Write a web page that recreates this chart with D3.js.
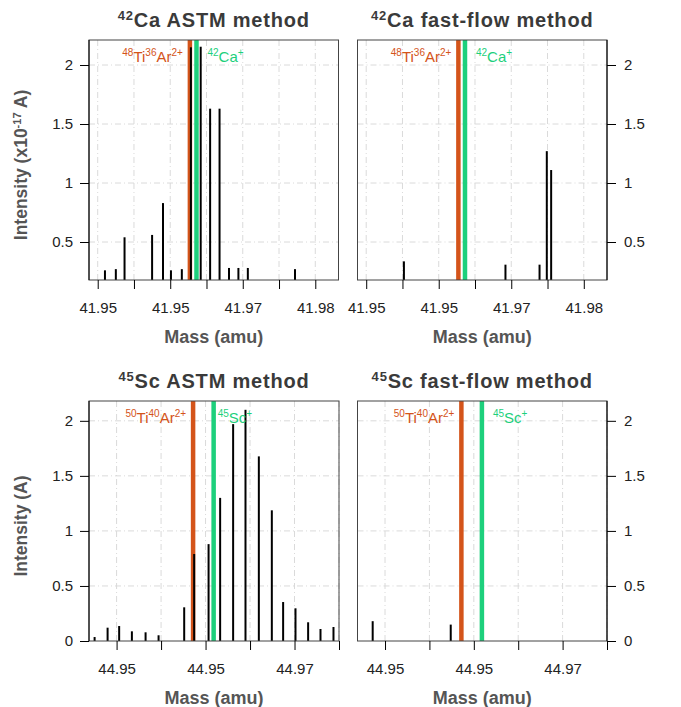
<!DOCTYPE html>
<html>
<head>
<meta charset="utf-8">
<script src="https://cdn.jsdelivr.net/npm/d3@7"></script>
<style>
  body { margin: 0; background: #fff; }
  svg { font-family: "Liberation Sans", Arial, Helvetica, sans-serif; }
</style>
</head>
<body>
<svg id="chart" width="681" height="707"></svg>
<script>
// spectra
const caAstmMass = [41.9460, 41.9475, 41.9487, 41.9525, 41.9540, 41.9551, 41.9566, 41.95785, 41.9592, 41.9605, 41.9618, 41.9631, 41.9644, 41.9657, 41.9722];
const caAstmInt  = [0.26, 0.27, 0.54, 0.56, 0.83, 0.26, 0.27, 2.15, 2.155, 1.63, 1.63, 0.28, 0.28, 0.28, 0.27];

const caFastMass = [41.9502, 41.9642, 41.9689, 41.9699, 41.9705];
const caFastInt  = [0.336, 0.308, 0.308, 1.27, 1.11];

const scAstmMass = [44.94253, 44.94399, 44.94529, 44.94672, 44.94826, 44.94972, 44.95260, 44.95372, 44.95534, 44.95664, 44.95810, 44.95949, 44.96099, 44.96245, 44.96372, 44.96511, 44.96653, 44.96792, 44.96938];
const scAstmInt  = [0.036, 0.121, 0.136, 0.088, 0.079, 0.052, 0.306, 0.79, 0.88, 1.30, 1.97, 2.10, 1.677, 1.187, 0.354, 0.297, 0.17, 0.109, 0.127];

const scFastMass = [44.94361, 44.9524];
const scFastInt  = [0.18, 0.149];

// interfering species (mass of the polyatomic, mass of the analyte)
const caLines = [41.95771, 41.95862];
const scLines = [44.95360, 44.95591];

const caTicks = [41.945, 41.95, 41.955, 41.96, 41.965, 41.97, 41.975];
const caTickLabels = ["41.95", "", "41.95", "", "41.97", "", "41.98"];
const scTicks = [44.945, 44.95, 44.955, 44.96, 44.965, 44.97];
const scTickLabels = ["44.95", "", "44.95", "", "44.97", ""];

const topYTicks = [0.5, 1, 1.5, 2];
const botYTicks = [0, 0.5, 1, 1.5, 2];

const ORANGE = "#d4541a";
const GREEN = "#1dd07c";

const svg = d3.select("#chart");

// text with superscript bits: parts = [[str, isSup], ...]
function richText(sel, parts, size, supSize, rise) {
  let up = false;
  parts.forEach(([s, sup]) => {
    const t = sel.append("tspan").text(s);
    if (sup && !up) { t.attr("dy", -rise); up = true; }
    else if (!sup && up) { t.attr("dy", rise); up = false; }
    t.attr("font-size", sup ? supSize : size);
  });
  return sel;
}

function drawPanel(p) {
  const x = d3.scaleLinear().domain(p.xDom).range([p.x0, p.x1]);
  const y = d3.scaleLinear().domain(p.yDom).range([p.y1, p.y0]);
  const g = svg.append("g");

  // grid
  g.selectAll("line.vg").data(p.xTicks).join("line")
    .attr("x1", d => x(d)).attr("x2", d => x(d))
    .attr("y1", p.y0).attr("y2", p.y1)
    .attr("stroke", "#dadada").attr("stroke-width", 1)
    .attr("stroke-dasharray", "6,3,1,3");
  g.selectAll("line.hg").data(p.yTicks.filter(d => d > p.yDom[0])).join("line")
    .attr("x1", p.x0).attr("x2", p.x1)
    .attr("y1", d => y(d)).attr("y2", d => y(d))
    .attr("stroke", "#dadada").attr("stroke-width", 1)
    .attr("stroke-dasharray", "6,3,1,3");

  // interference lines
  g.append("line")
    .attr("x1", x(p.lines[0])).attr("x2", x(p.lines[0]))
    .attr("y1", p.y0).attr("y2", p.y1)
    .attr("stroke", ORANGE).attr("stroke-width", 4.5);
  g.append("line")
    .attr("x1", x(p.lines[1])).attr("x2", x(p.lines[1]))
    .attr("y1", p.y0).attr("y2", p.y1)
    .attr("stroke", GREEN).attr("stroke-width", 4.5);

  // spikes
  const spikes = p.mass.map((m, i) => ({ m, v: p.int[i] }));
  g.selectAll("line.spike").data(spikes).join("line")
    .attr("x1", d => x(d.m)).attr("x2", d => x(d.m))
    .attr("y1", p.y1).attr("y2", d => y(d.v))
    .attr("stroke", "#000").attr("stroke-width", 2);

  // labels of the lines
  richText(g.append("text")
    .attr("x", x(p.lines[0]) - 7).attr("y", p.y0 + 22)
    .attr("text-anchor", "end").attr("fill", ORANGE),
    p.polyLabel, 15, 10, 6);
  richText(g.append("text")
    .attr("x", x(p.lines[1]) + p.greenGap).attr("y", p.y0 + 22)
    .attr("fill", GREEN),
    p.ionLabel, 15, 10, 6);

  // frame
  g.append("rect")
    .attr("x", p.x0).attr("y", p.y0)
    .attr("width", p.x1 - p.x0).attr("height", p.y1 - p.y0)
    .attr("fill", "none").attr("stroke", "#444").attr("stroke-width", 1);

  // x axis
  const xa = g.append("g")
    .attr("transform", `translate(0,${p.y1})`)
    .call(d3.axisBottom(x).tickValues(p.xTicks)
      .tickFormat((d, i) => p.xLabels[i]).tickSize(9).tickSizeOuter(0).tickPadding(13.5));
  xa.select(".domain").remove();
  xa.selectAll("line").attr("stroke", "#000");
  xa.selectAll("text").attr("font-size", 15).attr("fill", "#222")
    .attr("font-family", "Liberation Sans, Arial, sans-serif");

  // y axis
  const yAxis = p.right ? d3.axisRight(y) : d3.axisLeft(y);
  const ya = g.append("g")
    .attr("transform", `translate(${p.right ? p.x1 : p.x0},0)`)
    .call(yAxis.tickValues(p.yTicks).tickFormat(d3.format("~g"))
      .tickSize(9).tickSizeOuter(0).tickPadding(p.right ? 8 : 7));
  ya.select(".domain").attr("d", `M0,${p.y0}V${p.y1}`).attr("stroke", "#000");
  ya.selectAll("line").attr("stroke", "#000");
  ya.selectAll("text").attr("font-size", 15).attr("fill", "#222")
    .attr("font-family", "Liberation Sans, Arial, sans-serif");

  // titles
  const cx = (p.x0 + p.x1) / 2;
  richText(svg.append("text")
    .attr("x", cx).attr("y", p.y0 - 13)
    .attr("text-anchor", "middle").attr("font-weight", "bold").attr("fill", "#3a3a3a")
    .attr("letter-spacing", 0.8),
    p.title, 20, 13, 7);

  svg.append("text")
    .attr("x", cx).attr("y", p.y1 + 62.5)
    .attr("text-anchor", "middle").attr("font-weight", "bold")
    .attr("font-size", 18).attr("fill", "#555")
    .text("Mass (amu)");

  if (p.yTitle) {
    richText(svg.append("text")
      .attr("transform", `translate(26.5,${(p.y0 + p.y1) / 2 + 5}) rotate(-90)`)
      .attr("text-anchor", "middle").attr("font-weight", "bold").attr("fill", "#555"),
      p.yTitle, 17.5, 11, 6);
  }
}

const caX = [41.9438, 41.9782];
const scX = [44.9419, 44.9700];

drawPanel({
  x0: 89, x1: 338.5, y0: 40, y1: 280, xDom: caX, yDom: [0.178, 2.212],
  xTicks: caTicks, xLabels: caTickLabels, yTicks: topYTicks,
  mass: caAstmMass, int: caAstmInt, lines: caLines, greenGap: 11,
  polyLabel: [["48", true], ["Ti", false], ["36", true], ["Ar", false], ["2+", true]],
  ionLabel: [["42", true], ["Ca", false], ["+", true]],
  title: [["42", true], ["Ca ASTM method", false]],
  yTitle: [["Intensity (x10", false], ["-17", true], [" A)", false]]
});
drawPanel({
  x0: 357.5, x1: 607, y0: 40, y1: 280, xDom: caX, yDom: [0.178, 2.212], right: true,
  xTicks: caTicks, xLabels: caTickLabels, yTicks: topYTicks,
  mass: caFastMass, int: caFastInt, lines: caLines, greenGap: 11,
  polyLabel: [["48", true], ["Ti", false], ["36", true], ["Ar", false], ["2+", true]],
  ionLabel: [["42", true], ["Ca", false], ["+", true]],
  title: [["42", true], ["Ca fast-flow method", false]]
});
drawPanel({
  x0: 89, x1: 339, y0: 401, y1: 641, xDom: scX, yDom: [0, 2.18],
  xTicks: scTicks, xLabels: scTickLabels, yTicks: botYTicks,
  mass: scAstmMass, int: scAstmInt, lines: scLines, greenGap: 4,
  polyLabel: [["50", true], ["Ti", false], ["40", true], ["Ar", false], ["2+", true]],
  ionLabel: [["45", true], ["Sc", false], ["+", true]],
  title: [["45", true], ["Sc ASTM method", false]],
  yTitle: [["Intensity (A)", false]]
});
drawPanel({
  x0: 357.5, x1: 607, y0: 401, y1: 641, xDom: scX, yDom: [0, 2.18], right: true,
  xTicks: scTicks, xLabels: scTickLabels, yTicks: botYTicks,
  mass: scFastMass, int: scFastInt, lines: scLines, greenGap: 11,
  polyLabel: [["50", true], ["Ti", false], ["40", true], ["Ar", false], ["2+", true]],
  ionLabel: [["45", true], ["Sc", false], ["+", true]],
  title: [["45", true], ["Sc fast-flow method", false]]
});
</script>
</body>
</html>
